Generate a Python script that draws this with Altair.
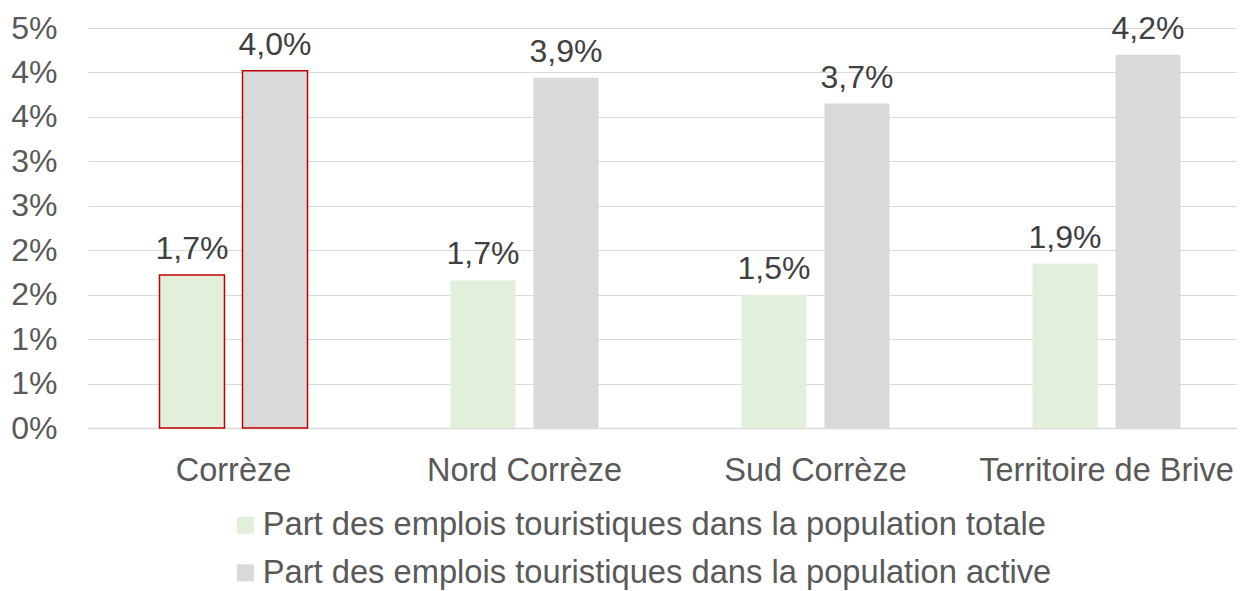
import altair as alt
import pandas as pd

regions = ["Corrèze", "Nord Corrèze", "Sud Corrèze", "Territoire de Brive"]
series = [
    "Part des emplois touristiques dans la population totale",
    "Part des emplois touristiques dans la population active",
]
part_totale = [1.72, 1.66, 1.50, 1.85]
part_active = [4.02, 3.94, 3.65, 4.20]
labels_totale = ["1,7%", "1,7%", "1,5%", "1,9%"]
labels_active = ["4,0%", "3,9%", "3,7%", "4,2%"]
tick_values = [0, 0.5, 1, 1.5, 2, 2.5, 3, 3.5, 4, 4.5]
tick_labels = ["0%", "1%", "1%", "2%", "2%", "3%", "3%", "4%", "4%", "5%"]
colors = ["#E2EFDA", "#D9D9D9"]

rows = []
for i, r in enumerate(regions):
    rows.append({"region": r, "serie": series[0], "value": part_totale[i], "label": labels_totale[i]})
    rows.append({"region": r, "serie": series[1], "value": part_active[i], "label": labels_active[i]})
df = pd.DataFrame(rows)

font = "Liberation Sans"
fs = 32
label_expr = "[" + ",".join(f"'{t}'" for t in tick_labels) + "][round(datum.value*2)]"

x = alt.X("region:N", sort=regions, title=None,
          scale=alt.Scale(range=[0, 1164], paddingInner=0, paddingOuter=0),
          axis=alt.Axis(labelAngle=0, ticks=False, labelPadding=26, labelFontSize=32.5,
                        labelColor="#595959", labelFont=font, domainColor="#D9D9D9",
                        domainWidth=1.5, labelBaseline="top", labelLimit=1000))
xo = alt.XOffset("serie:N", sort=series,
                 scale=alt.Scale(paddingInner=0.217, paddingOuter=0.861))
y = alt.Y("value:Q", title=None,
          scale=alt.Scale(domain=[0, 4.5], nice=False),
          axis=alt.Axis(values=tick_values, labelExpr=label_expr, ticks=False, domain=False,
                        labelPadding=31, labelFontSize=fs, labelColor="#595959",
                        labelFont=font, gridColor="#D9D9D9", gridWidth=1.2))

bars = alt.Chart(df).mark_bar(strokeWidth=1.5).encode(
    x=x, xOffset=xo, y=y,
    color=alt.Color("serie:N", sort=series, title=None,
                    scale=alt.Scale(domain=series, range=colors),
                    legend=alt.Legend(orient="none", legendX=141, legendY=481,
                                      direction="vertical", symbolType="square",
                                      symbolSize=289, symbolStrokeWidth=0,
                                      labelFontSize=32.7, labelColor="#595959",
                                      labelFont=font, labelOffset=1, rowPadding=13.5,
                                      labelLimit=1000)),
    stroke=alt.condition("datum.region == 'Corrèze'", alt.value("#C00000"), alt.value("transparent")),
)

text = alt.Chart(df).mark_text(baseline="alphabetic", dy=-16, fontSize=fs, font=font,
                               color="#404040").encode(
    x=alt.X("region:N", sort=regions),
    xOffset=alt.XOffset("serie:N", sort=series),
    y="value:Q",
    text="label:N",
)

chart = alt.layer(bars, text).properties(
    width=1149, height=400,
    autosize=alt.AutoSizeParams(type="none"),
    padding={"left": 80, "top": 20, "right": 0, "bottom": 163},
    background="white",
).configure_view(stroke=None)

chart.save("out.html", embed_options={"renderer": "svg", "actions": False})
